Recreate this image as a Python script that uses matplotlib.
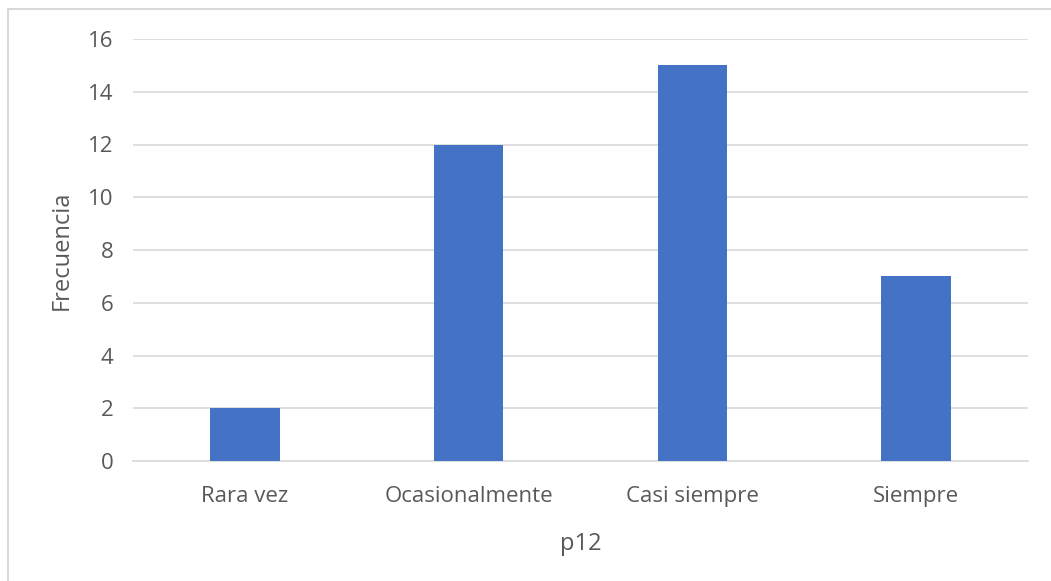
import matplotlib.pyplot as plt
from matplotlib.lines import Line2D

categories = ["Rara vez", "Ocasionalmente", "Casi siempre", "Siempre"]
frecuencia = [2, 12, 15, 7]
y_ticks = [0, 2, 4, 6, 8, 10, 12, 14, 16]

BAR_BLUE = "#4472C4"
GRID_GRAY = "#D9D9D9"
TEXT_GRAY = "#595959"

plt.rcParams["font.family"] = ["Open Sans", "DejaVu Sans"]

fig = plt.figure(figsize=(10.51, 5.81), dpi=100)
ax = fig.add_axes([133 / 1051, 120 / 581, 895 / 1051, 422 / 581])

x = range(len(categories))
ax.bar(x, frecuencia, width=0.31, color=BAR_BLUE, zorder=3)

ax.set_xlim(-0.5, len(categories) - 0.5)
ax.set_ylim(0, 16)
ax.set_yticks(y_ticks)
ax.set_xticks(list(x))
ax.set_xticklabels(categories)
ax.yaxis.grid(True, color=GRID_GRAY, linewidth=1.2, zorder=0)
ax.set_axisbelow(True)
for s in ["top", "right", "left"]:
    ax.spines[s].set_visible(False)
ax.spines["bottom"].set_color(GRID_GRAY)
ax.spines["bottom"].set_linewidth(1.2)
ax.tick_params(axis="both", length=0, labelsize=16, colors=TEXT_GRAY)
ax.tick_params(axis="y", pad=14)
ax.tick_params(axis="x", pad=18)

ax.set_ylabel("Frecuencia", fontsize=17, color=TEXT_GRAY, labelpad=10)
ax.set_xlabel("p12", fontsize=17, color=TEXT_GRAY, labelpad=18)

# chart frame (only top and left edges visible)
fig.add_artist(Line2D([8 / 1051, 8 / 1051], [0, 1 - 9 / 581],
                      transform=fig.transFigure, color=GRID_GRAY, linewidth=1.5))
fig.add_artist(Line2D([8 / 1051, 1], [1 - 9 / 581, 1 - 9 / 581],
                      transform=fig.transFigure, color=GRID_GRAY, linewidth=1.5))

fig.savefig("out.png", dpi=100)
